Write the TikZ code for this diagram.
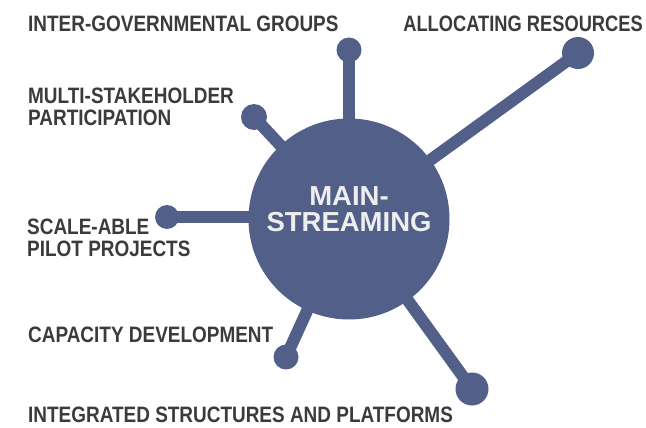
\documentclass[tikz,border=0pt]{standalone}
\usepackage{fontspec}
\newfontfamily\labelfont[FakeStretch=0.85]{Liberation Sans}
\newfontfamily\hubfont{Liberation Sans}
\definecolor{hubblue}{HTML}{515F89}
\definecolor{labelgray}{HTML}{3B3B3B}
\definecolor{hubtextcol}{HTML}{EEEEEE}
\tikzset{
  stem/.style={draw=hubblue, line width=12pt},
  dot/.style={circle, fill=hubblue, inner sep=0pt},
  lab/.style={anchor=south west, inner sep=0pt, text depth=0pt, align=left,
    text=labelgray, font=\labelfont\bfseries\fontsize{22.3}{22}\selectfont},
}
\begin{document}
\begin{tikzpicture}[x=1pt, y=-1pt]
\useasboundingbox (0,0) rectangle (646,428);
\coordinate (c) at (349,219);
% dots
\node[dot, minimum size=25pt] (igg) at (349,50) {};
\node[dot, minimum size=32pt] (alloc) at (578,53) {};
\node[dot, minimum size=26pt] (multi) at (254,117) {};
\node[dot, minimum size=24pt] (scale) at (167,217) {};
\node[dot, minimum size=25pt] (cap) at (286,357) {};
\node[dot, minimum size=33pt] (integ) at (472,389) {};
% stems
\foreach \d in {igg,alloc,multi,cap,integ}
  \draw[stem] (c) -- (\d.center);
\draw[stem] (scale.center) -- (scale.center -| c);
% hub
\node[circle, fill=hubblue, minimum size=201pt, inner sep=0pt] (hub) at (c) {};
\node[anchor=south, inner sep=0pt, text depth=0pt, align=center, text=hubtextcol,
  font=\hubfont\bfseries\fontsize{27.5}{26}\selectfont] (hubtext) at (349,232) {MAIN-\\STREAMING};
% labels
\node[lab] (ligg) at (28,32) {INTER-GOVERNMENTAL GROUPS};
\node[lab, anchor=south east] (lalloc) at (643,32) {\scalebox{0.965}[1]{ALLOCATING RESOURCES}};
\node[lab] (lmulti) at (28,126) {MULTI-STAKEHOLDER\\PARTICIPATION};
\node[lab] (lscale) at (27,257) {SCALE-ABLE\\PILOT PROJECTS};
\node[lab] (lcap) at (28,343) {CAPACITY DEVELOPMENT};
\node[lab] (linteg) at (28,423) {INTEGRATED STRUCTURES AND PLATFORMS};
\end{tikzpicture}
\end{document}
